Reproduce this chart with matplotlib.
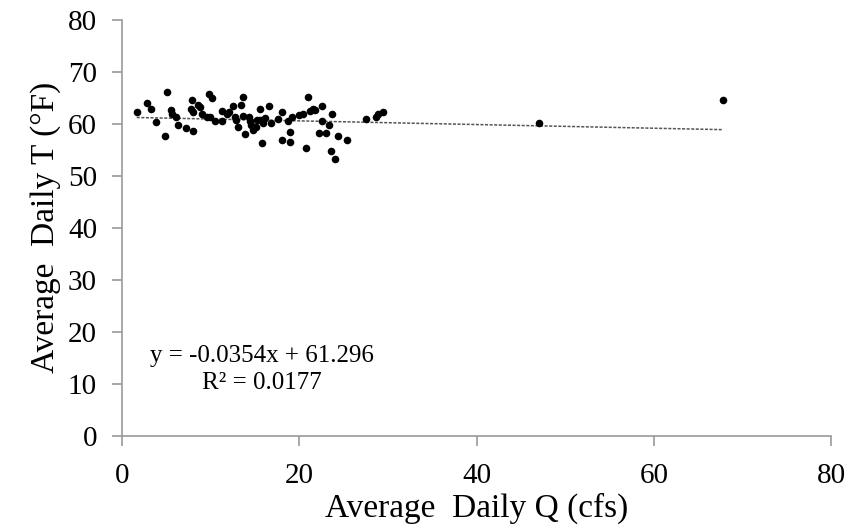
#!/usr/bin/env python3
# Average daily water temperature vs. average daily flow, with linear trendline

import matplotlib
matplotlib.use('Agg')
import matplotlib.pyplot as plt

plt.rcParams.update({
    'font.family': ['Liberation Serif', 'DejaVu Serif'],
    'axes.linewidth': 1.2,
    'xtick.labelsize': 21,
    'ytick.labelsize': 21,
    'axes.labelsize': 24,
})

# data
q_cfs = [1.66, 2.79, 3.27, 3.84, 5.11, 4.85, 5.53, 5.68, 6.06, 6.36,
         7.22, 8.05, 7.86, 7.79, 8.05, 8.61, 8.80, 9.07, 9.56, 9.86,
         10.1, 9.93, 10.5, 11.25, 11.25, 11.8, 12.1, 12.5, 12.7, 12.9,
         13.1, 13.4, 13.7, 13.7, 13.9, 14.3, 14.4, 14.6, 14.8, 15.2,
         15.1, 15.6, 15.6, 15.8, 15.95, 16.1, 16.6, 16.8, 17.6, 18.0,
         18.0, 18.7, 19.0, 19.0, 19.15, 20.0, 20.4, 20.8, 21.0, 21.2,
         21.5, 21.8, 22.2, 22.6, 22.6, 23.0, 23.4, 23.7, 23.6, 24.0,
         24.4, 25.4, 27.5, 28.6, 28.9, 29.4, 47.1, 67.8]
temp_f = [62.2, 64.1, 62.9, 60.4, 66.1, 57.7, 62.7, 61.9, 61.4, 59.7,
          59.2, 58.7, 64.6, 62.8, 62.2, 63.6, 63.2, 61.9, 61.4, 65.7,
          64.9, 61.3, 60.6, 60.6, 62.4, 62.0, 62.2, 63.5, 61.3, 60.8,
          59.5, 63.6, 65.2, 61.5, 58.0, 61.4, 60.6, 59.8, 58.8, 60.8,
          59.5, 62.8, 60.8, 56.3, 60.1, 61.1, 63.5, 60.1, 61.0, 62.2,
          57.0, 60.6, 58.5, 56.5, 61.4, 61.7, 62.0, 55.3, 65.1, 62.4,
          62.8, 62.6, 58.2, 63.5, 60.6, 58.3, 59.8, 61.9, 54.8, 53.3,
          57.7, 57.0, 60.9, 61.4, 61.9, 62.2, 60.1, 64.6]

slope = -0.0354
intercept = 61.296
r2 = 0.0177

fig = plt.figure(figsize=(8.57, 5.29), dpi=100)
ax = fig.add_axes([0.1424, 0.1764, 0.8273, 0.7858])

ax.scatter(q_cfs, temp_f, s=30, color='black', zorder=3, linewidths=0)

xfit = [min(q_cfs), max(q_cfs)]
yfit = [slope * x + intercept for x in xfit]
ax.plot(xfit, yfit, color='#555555', linestyle=(0, (2, 1)), linewidth=1.1, zorder=2)

ax.text(15.8, 14.2, "y = %.4fx + %.3f" % (slope, intercept), ha='center', va='baseline', fontsize=18)
ax.text(15.8, 8.9, "R\u00b2 = %.4f" % r2, ha='center', va='baseline', fontsize=18)

ax.set_xlim(0, 80)
ax.set_ylim(0, 80)
ax.set_xticks([0, 20, 40, 60, 80])
ax.set_yticks(range(0, 81, 10))

for side in ['top', 'right']:
    ax.spines[side].set_visible(False)
for side in ['left', 'bottom']:
    ax.spines[side].set_color('#999999')
ax.tick_params(axis='both', direction='out', length=7, width=1.2, color='#999999')
ax.tick_params(axis='y', pad=11)
ax.tick_params(axis='x', pad=13)

ax.set_xlabel("Average  Daily Q (cfs)", labelpad=2)
ax.set_ylabel("Average  Daily T (\u00b0F)", labelpad=5)

fig.savefig("out.png", dpi=100)
